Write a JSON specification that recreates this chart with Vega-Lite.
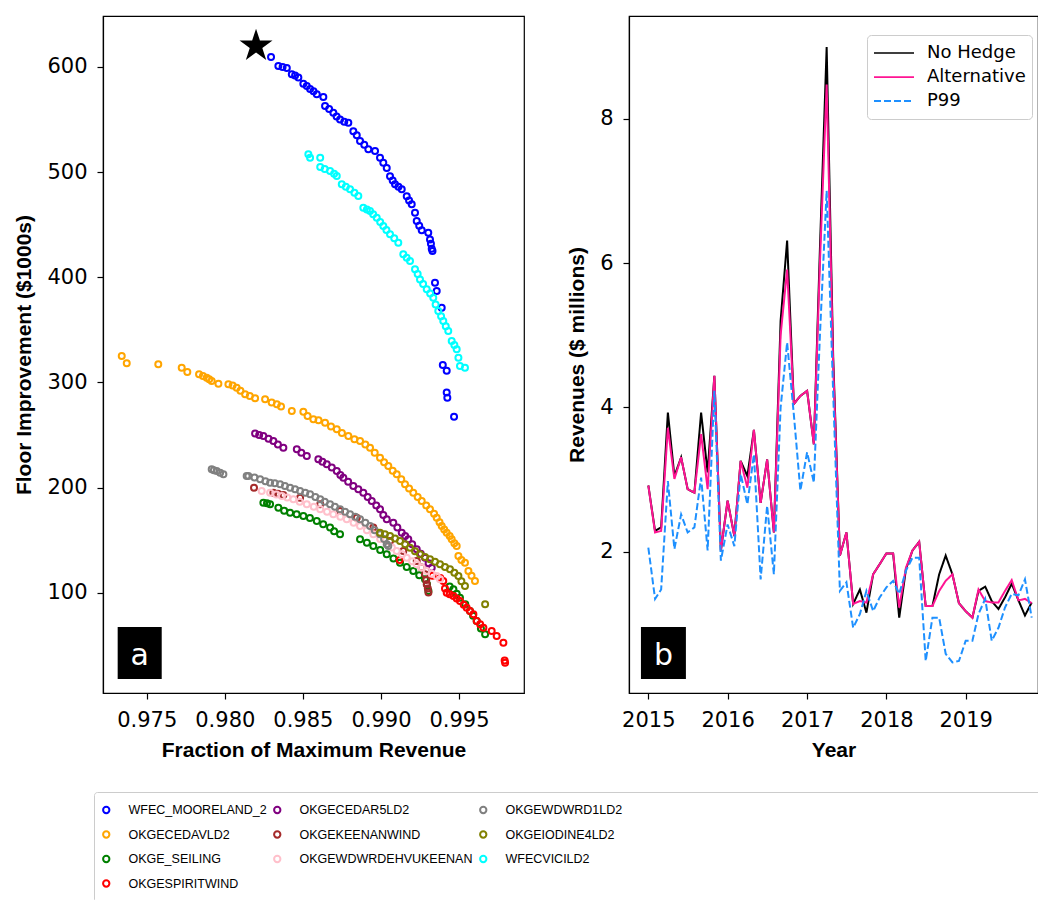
{
"$schema": "https://vega.github.io/schema/vega-lite/v6.json",
"padding": {"left": 13, "top": 15, "right": 0, "bottom": 0},
"background": "white",
"config": {
  "view": {"stroke": "black", "strokeWidth": 1.2},
  "axis": {"labelFont": "DejaVu Sans", "labelFontSize": 21, "labelColor": "black", "tickColor": "black", "domainColor": "black", "tickSize": 6, "tickWidth": 1.2, "domainWidth": 1.2, "labelPadding": 10, "titleFont": "Liberation Sans", "titleFontSize": 21, "titleFontWeight": "bold", "titleColor": "black", "titlePadding": 12, "grid": false, "labelOverlap": false, "labelFlush": false, "labelBound": false}
},
"datasets": {
"scatter": [
{"unit":"WFEC_MOORELAND_2","frac":0.98296,"floor":609.5},{"unit":"WFEC_MOORELAND_2","frac":0.98343,"floor":601},{"unit":"WFEC_MOORELAND_2","frac":0.9837,"floor":600},{"unit":"WFEC_MOORELAND_2","frac":0.98397,"floor":599},{"unit":"WFEC_MOORELAND_2","frac":0.98429,"floor":593},{"unit":"WFEC_MOORELAND_2","frac":0.9845,"floor":592},{"unit":"WFEC_MOORELAND_2","frac":0.98471,"floor":590},{"unit":"WFEC_MOORELAND_2","frac":0.98503,"floor":584},{"unit":"WFEC_MOORELAND_2","frac":0.98525,"floor":582},{"unit":"WFEC_MOORELAND_2","frac":0.98546,"floor":579},{"unit":"WFEC_MOORELAND_2","frac":0.98568,"floor":577},{"unit":"WFEC_MOORELAND_2","frac":0.98589,"floor":574},{"unit":"WFEC_MOORELAND_2","frac":0.98631,"floor":571.5},{"unit":"WFEC_MOORELAND_2","frac":0.98642,"floor":563},{"unit":"WFEC_MOORELAND_2","frac":0.98668,"floor":560},{"unit":"WFEC_MOORELAND_2","frac":0.98695,"floor":556.5},{"unit":"WFEC_MOORELAND_2","frac":0.98716,"floor":553},{"unit":"WFEC_MOORELAND_2","frac":0.98738,"floor":550},{"unit":"WFEC_MOORELAND_2","frac":0.98765,"floor":548},{"unit":"WFEC_MOORELAND_2","frac":0.98791,"floor":547},{"unit":"WFEC_MOORELAND_2","frac":0.98823,"floor":539},{"unit":"WFEC_MOORELAND_2","frac":0.98845,"floor":535},{"unit":"WFEC_MOORELAND_2","frac":0.98866,"floor":529.6},{"unit":"WFEC_MOORELAND_2","frac":0.98893,"floor":526},{"unit":"WFEC_MOORELAND_2","frac":0.98919,"floor":521.7},{"unit":"WFEC_MOORELAND_2","frac":0.98962,"floor":520},{"unit":"WFEC_MOORELAND_2","frac":0.98994,"floor":513.7},{"unit":"WFEC_MOORELAND_2","frac":0.99015,"floor":509},{"unit":"WFEC_MOORELAND_2","frac":0.99037,"floor":504},{"unit":"WFEC_MOORELAND_2","frac":0.99058,"floor":496},{"unit":"WFEC_MOORELAND_2","frac":0.99075,"floor":492},{"unit":"WFEC_MOORELAND_2","frac":0.9909,"floor":488.4},{"unit":"WFEC_MOORELAND_2","frac":0.99112,"floor":486},{"unit":"WFEC_MOORELAND_2","frac":0.99133,"floor":483.7},{"unit":"WFEC_MOORELAND_2","frac":0.99165,"floor":477},{"unit":"WFEC_MOORELAND_2","frac":0.9918,"floor":473},{"unit":"WFEC_MOORELAND_2","frac":0.99197,"floor":469.4},{"unit":"WFEC_MOORELAND_2","frac":0.99218,"floor":461.4},{"unit":"WFEC_MOORELAND_2","frac":0.99229,"floor":453.5},{"unit":"WFEC_MOORELAND_2","frac":0.99245,"floor":449},{"unit":"WFEC_MOORELAND_2","frac":0.99261,"floor":444.7},{"unit":"WFEC_MOORELAND_2","frac":0.99303,"floor":442.4},{"unit":"WFEC_MOORELAND_2","frac":0.99314,"floor":436},{"unit":"WFEC_MOORELAND_2","frac":0.9932,"floor":432},{"unit":"WFEC_MOORELAND_2","frac":0.99325,"floor":427.2},{"unit":"WFEC_MOORELAND_2","frac":0.9933,"floor":425},{"unit":"WFEC_MOORELAND_2","frac":0.99346,"floor":394.8},{"unit":"WFEC_MOORELAND_2","frac":0.99357,"floor":387},{"unit":"WFEC_MOORELAND_2","frac":0.99389,"floor":371},{"unit":"WFEC_MOORELAND_2","frac":0.99396,"floor":316.6},{"unit":"WFEC_MOORELAND_2","frac":0.99421,"floor":311},{"unit":"WFEC_MOORELAND_2","frac":0.99421,"floor":290.3},{"unit":"WFEC_MOORELAND_2","frac":0.99425,"floor":285.5},{"unit":"WFEC_MOORELAND_2","frac":0.99468,"floor":267.4},
{"unit":"OKGECEDAVLD2","frac":0.9734,"floor":325.1},{"unit":"OKGECEDAVLD2","frac":0.97372,"floor":318.2},{"unit":"OKGECEDAVLD2","frac":0.97574,"floor":317.2},{"unit":"OKGECEDAVLD2","frac":0.97724,"floor":314},{"unit":"OKGECEDAVLD2","frac":0.9776,"floor":309.9},{"unit":"OKGECEDAVLD2","frac":0.97835,"floor":307.7},{"unit":"OKGECEDAVLD2","frac":0.9786,"floor":306},{"unit":"OKGECEDAVLD2","frac":0.97884,"floor":304.5},{"unit":"OKGECEDAVLD2","frac":0.979,"floor":303},{"unit":"OKGECEDAVLD2","frac":0.97916,"floor":301.4},{"unit":"OKGECEDAVLD2","frac":0.97959,"floor":298.8},{"unit":"OKGECEDAVLD2","frac":0.98023,"floor":298.2},{"unit":"OKGECEDAVLD2","frac":0.9805,"floor":297},{"unit":"OKGECEDAVLD2","frac":0.98076,"floor":295},{"unit":"OKGECEDAVLD2","frac":0.981,"floor":292},{"unit":"OKGECEDAVLD2","frac":0.9813,"floor":288.7},{"unit":"OKGECEDAVLD2","frac":0.9816,"floor":287},{"unit":"OKGECEDAVLD2","frac":0.98194,"floor":284.9},{"unit":"OKGECEDAVLD2","frac":0.98258,"floor":284},{"unit":"OKGECEDAVLD2","frac":0.983,"floor":281},{"unit":"OKGECEDAVLD2","frac":0.98333,"floor":279.2},{"unit":"OKGECEDAVLD2","frac":0.9836,"floor":277},{"unit":"OKGECEDAVLD2","frac":0.98429,"floor":272.8},{"unit":"OKGECEDAVLD2","frac":0.98503,"floor":272.2},{"unit":"OKGECEDAVLD2","frac":0.9853,"floor":268},{"unit":"OKGECEDAVLD2","frac":0.98567,"floor":265},{"unit":"OKGECEDAVLD2","frac":0.986,"floor":264},{"unit":"OKGECEDAVLD2","frac":0.98642,"floor":261.7},{"unit":"OKGECEDAVLD2","frac":0.9868,"floor":258},{"unit":"OKGECEDAVLD2","frac":0.98717,"floor":255.4},{"unit":"OKGECEDAVLD2","frac":0.9875,"floor":252},{"unit":"OKGECEDAVLD2","frac":0.98791,"floor":249.1},{"unit":"OKGECEDAVLD2","frac":0.9883,"floor":246},{"unit":"OKGECEDAVLD2","frac":0.98866,"floor":244.3},{"unit":"OKGECEDAVLD2","frac":0.989,"floor":241},{"unit":"OKGECEDAVLD2","frac":0.9893,"floor":237.9},{"unit":"OKGECEDAVLD2","frac":0.9896,"floor":233},{"unit":"OKGECEDAVLD2","frac":0.98994,"floor":228.4},{"unit":"OKGECEDAVLD2","frac":0.9902,"floor":224},{"unit":"OKGECEDAVLD2","frac":0.99047,"floor":220.5},{"unit":"OKGECEDAVLD2","frac":0.99075,"floor":216},{"unit":"OKGECEDAVLD2","frac":0.99101,"floor":212.6},{"unit":"OKGECEDAVLD2","frac":0.9913,"floor":208},{"unit":"OKGECEDAVLD2","frac":0.99154,"floor":203.1},{"unit":"OKGECEDAVLD2","frac":0.9918,"floor":199},{"unit":"OKGECEDAVLD2","frac":0.99207,"floor":195.1},{"unit":"OKGECEDAVLD2","frac":0.99235,"floor":191},{"unit":"OKGECEDAVLD2","frac":0.99261,"floor":187.2},{"unit":"OKGECEDAVLD2","frac":0.9929,"floor":183},{"unit":"OKGECEDAVLD2","frac":0.99314,"floor":179.3},{"unit":"OKGECEDAVLD2","frac":0.9934,"floor":175},{"unit":"OKGECEDAVLD2","frac":0.99357,"floor":171.3},{"unit":"OKGECEDAVLD2","frac":0.99375,"floor":167},{"unit":"OKGECEDAVLD2","frac":0.99389,"floor":163.4},{"unit":"OKGECEDAVLD2","frac":0.99405,"floor":160},{"unit":"OKGECEDAVLD2","frac":0.99421,"floor":157.1},{"unit":"OKGECEDAVLD2","frac":0.9944,"floor":154},{"unit":"OKGECEDAVLD2","frac":0.99453,"floor":150.8},{"unit":"OKGECEDAVLD2","frac":0.9947,"floor":147},{"unit":"OKGECEDAVLD2","frac":0.99485,"floor":144.4},{"unit":"OKGECEDAVLD2","frac":0.99496,"floor":134.9},{"unit":"OKGECEDAVLD2","frac":0.99515,"floor":131},{"unit":"OKGECEDAVLD2","frac":0.99538,"floor":128.5},{"unit":"OKGECEDAVLD2","frac":0.9956,"floor":120.6},{"unit":"OKGECEDAVLD2","frac":0.9958,"floor":116},{"unit":"OKGECEDAVLD2","frac":0.99602,"floor":111.1},
{"unit":"OKGE_SEILING","frac":0.98247,"floor":185.6},{"unit":"OKGE_SEILING","frac":0.9827,"floor":185},{"unit":"OKGE_SEILING","frac":0.9829,"floor":184.1},{"unit":"OKGE_SEILING","frac":0.98343,"floor":180.9},{"unit":"OKGE_SEILING","frac":0.9838,"floor":178},{"unit":"OKGE_SEILING","frac":0.98418,"floor":176.1},{"unit":"OKGE_SEILING","frac":0.9846,"floor":174.5},{"unit":"OKGE_SEILING","frac":0.98503,"floor":173},{"unit":"OKGE_SEILING","frac":0.98545,"floor":171},{"unit":"OKGE_SEILING","frac":0.98589,"floor":168.2},{"unit":"OKGE_SEILING","frac":0.9863,"floor":165},{"unit":"OKGE_SEILING","frac":0.98674,"floor":161.9},{"unit":"OKGE_SEILING","frac":0.987,"floor":158.5},{"unit":"OKGE_SEILING","frac":0.98738,"floor":155.6},{"unit":"OKGE_SEILING","frac":0.98866,"floor":150.8},{"unit":"OKGE_SEILING","frac":0.9891,"floor":147.5},{"unit":"OKGE_SEILING","frac":0.98951,"floor":144.4},{"unit":"OKGE_SEILING","frac":0.98995,"floor":140.5},{"unit":"OKGE_SEILING","frac":0.99037,"floor":136.5},{"unit":"OKGE_SEILING","frac":0.9908,"floor":132.5},{"unit":"OKGE_SEILING","frac":0.99122,"floor":128.5},{"unit":"OKGE_SEILING","frac":0.99165,"floor":124.5},{"unit":"OKGE_SEILING","frac":0.99207,"floor":120.6},{"unit":"OKGE_SEILING","frac":0.99245,"floor":116.5},{"unit":"OKGE_SEILING","frac":0.99282,"floor":112.8},{"unit":"OKGE_SEILING","frac":0.99295,"floor":108},{"unit":"OKGE_SEILING","frac":0.99304,"floor":101.6},{"unit":"OKGE_SEILING","frac":0.9944,"floor":106},{"unit":"OKGE_SEILING","frac":0.99464,"floor":103.2},{"unit":"OKGE_SEILING","frac":0.99485,"floor":99},{"unit":"OKGE_SEILING","frac":0.99506,"floor":95.3},{"unit":"OKGE_SEILING","frac":0.9954,"floor":89},{"unit":"OKGE_SEILING","frac":0.9957,"floor":82.6},{"unit":"OKGE_SEILING","frac":0.9959,"floor":78},{"unit":"OKGE_SEILING","frac":0.99613,"floor":73.1},{"unit":"OKGE_SEILING","frac":0.9964,"floor":66},{"unit":"OKGE_SEILING","frac":0.99667,"floor":60.4},
{"unit":"OKGESPIRITWIND","frac":0.9912,"floor":131},{"unit":"OKGESPIRITWIND","frac":0.9933,"floor":116},{"unit":"OKGESPIRITWIND","frac":0.9938,"floor":114},{"unit":"OKGESPIRITWIND","frac":0.99399,"floor":111.1},{"unit":"OKGESPIRITWIND","frac":0.9941,"floor":104},{"unit":"OKGESPIRITWIND","frac":0.99421,"floor":100},{"unit":"OKGESPIRITWIND","frac":0.9944,"floor":98.5},{"unit":"OKGESPIRITWIND","frac":0.99464,"floor":96.9},{"unit":"OKGESPIRITWIND","frac":0.99485,"floor":94.5},{"unit":"OKGESPIRITWIND","frac":0.99506,"floor":92.1},{"unit":"OKGESPIRITWIND","frac":0.9953,"floor":88.5},{"unit":"OKGESPIRITWIND","frac":0.99549,"floor":85.7},{"unit":"OKGESPIRITWIND","frac":0.9957,"floor":82.5},{"unit":"OKGESPIRITWIND","frac":0.99592,"floor":79.4},{"unit":"OKGESPIRITWIND","frac":0.99613,"floor":73.1},{"unit":"OKGESPIRITWIND","frac":0.99635,"floor":70},{"unit":"OKGESPIRITWIND","frac":0.99656,"floor":66.7},{"unit":"OKGESPIRITWIND","frac":0.99709,"floor":63.6},{"unit":"OKGESPIRITWIND","frac":0.99741,"floor":58.8},{"unit":"OKGESPIRITWIND","frac":0.99784,"floor":52.4},{"unit":"OKGESPIRITWIND","frac":0.99792,"floor":35.5},{"unit":"OKGESPIRITWIND","frac":0.99795,"floor":33.4},
{"unit":"OKGECEDAR5LD2","frac":0.98194,"floor":251.3},{"unit":"OKGECEDAR5LD2","frac":0.9822,"floor":250},{"unit":"OKGECEDAR5LD2","frac":0.98247,"floor":249.1},{"unit":"OKGECEDAR5LD2","frac":0.9828,"floor":246.5},{"unit":"OKGECEDAR5LD2","frac":0.98311,"floor":244.3},{"unit":"OKGECEDAR5LD2","frac":0.9834,"floor":241},{"unit":"OKGECEDAR5LD2","frac":0.98375,"floor":237.9},{"unit":"OKGECEDAR5LD2","frac":0.98461,"floor":236.4},{"unit":"OKGECEDAR5LD2","frac":0.9849,"floor":233},{"unit":"OKGECEDAR5LD2","frac":0.98525,"floor":230},{"unit":"OKGECEDAR5LD2","frac":0.98599,"floor":226.9},{"unit":"OKGECEDAR5LD2","frac":0.98625,"floor":224.5},{"unit":"OKGECEDAR5LD2","frac":0.98653,"floor":222.1},{"unit":"OKGECEDAR5LD2","frac":0.98685,"floor":219},{"unit":"OKGECEDAR5LD2","frac":0.98717,"floor":215.7},{"unit":"OKGECEDAR5LD2","frac":0.9874,"floor":212},{"unit":"OKGECEDAR5LD2","frac":0.98759,"floor":209.4},{"unit":"OKGECEDAR5LD2","frac":0.9879,"floor":205.5},{"unit":"OKGECEDAR5LD2","frac":0.98823,"floor":201.5},{"unit":"OKGECEDAR5LD2","frac":0.98855,"floor":198.5},{"unit":"OKGECEDAR5LD2","frac":0.98887,"floor":195.1},{"unit":"OKGECEDAR5LD2","frac":0.98915,"floor":191},{"unit":"OKGECEDAR5LD2","frac":0.98941,"floor":187.2},{"unit":"OKGECEDAR5LD2","frac":0.9897,"floor":183},{"unit":"OKGECEDAR5LD2","frac":0.98994,"floor":179.3},{"unit":"OKGECEDAR5LD2","frac":0.99015,"floor":174},{"unit":"OKGECEDAR5LD2","frac":0.99037,"floor":169.8},{"unit":"OKGECEDAR5LD2","frac":0.99079,"floor":166.6},{"unit":"OKGECEDAR5LD2","frac":0.99105,"floor":162},{"unit":"OKGECEDAR5LD2","frac":0.99133,"floor":157.1},{"unit":"OKGECEDAR5LD2","frac":0.99155,"floor":154},{"unit":"OKGECEDAR5LD2","frac":0.99175,"floor":150.8},{"unit":"OKGECEDAR5LD2","frac":0.992,"floor":146},{"unit":"OKGECEDAR5LD2","frac":0.99229,"floor":141.3},{"unit":"OKGECEDAR5LD2","frac":0.99255,"floor":137},{"unit":"OKGECEDAR5LD2","frac":0.99282,"floor":133.3},{"unit":"OKGECEDAR5LD2","frac":0.99305,"floor":128},{"unit":"OKGECEDAR5LD2","frac":0.99325,"floor":123.8},
{"unit":"OKGEKEENANWIND","frac":0.98187,"floor":199.9},{"unit":"OKGEKEENANWIND","frac":0.98311,"floor":195.1},{"unit":"OKGEKEENANWIND","frac":0.9834,"floor":194},{"unit":"OKGEKEENANWIND","frac":0.98375,"floor":192.9},{"unit":"OKGEKEENANWIND","frac":0.98482,"floor":190.4},{"unit":"OKGEKEENANWIND","frac":0.98611,"floor":184.1},{"unit":"OKGEKEENANWIND","frac":0.98738,"floor":177.7},{"unit":"OKGEKEENANWIND","frac":0.98845,"floor":171.3},{"unit":"OKGEKEENANWIND","frac":0.98951,"floor":161.9},{"unit":"OKGEKEENANWIND","frac":0.99058,"floor":149.2},{"unit":"OKGEKEENANWIND","frac":0.99143,"floor":139.7},{"unit":"OKGEKEENANWIND","frac":0.99229,"floor":130.2},{"unit":"OKGEKEENANWIND","frac":0.9926,"floor":124},{"unit":"OKGEKEENANWIND","frac":0.99282,"floor":117.5},{"unit":"OKGEKEENANWIND","frac":0.9929,"floor":112},{"unit":"OKGEKEENANWIND","frac":0.99293,"floor":108},{"unit":"OKGEKEENANWIND","frac":0.993,"floor":104},{"unit":"OKGEKEENANWIND","frac":0.99304,"floor":100.1},
{"unit":"OKGEWDWRDEHVUKEENAN","frac":0.98236,"floor":196.7},{"unit":"OKGEWDWRDEHVUKEENAN","frac":0.9829,"floor":195.1},{"unit":"OKGEWDWRDEHVUKEENAN","frac":0.9833,"floor":193.5},{"unit":"OKGEWDWRDEHVUKEENAN","frac":0.98365,"floor":192},{"unit":"OKGEWDWRDEHVUKEENAN","frac":0.984,"floor":190.5},{"unit":"OKGEWDWRDEHVUKEENAN","frac":0.98439,"floor":188.8},{"unit":"OKGEWDWRDEHVUKEENAN","frac":0.9848,"floor":186.5},{"unit":"OKGEWDWRDEHVUKEENAN","frac":0.98525,"floor":184.1},{"unit":"OKGEWDWRDEHVUKEENAN","frac":0.9857,"floor":181.7},{"unit":"OKGEWDWRDEHVUKEENAN","frac":0.98611,"floor":179.3},{"unit":"OKGEWDWRDEHVUKEENAN","frac":0.98655,"floor":177},{"unit":"OKGEWDWRDEHVUKEENAN","frac":0.98695,"floor":174.6},{"unit":"OKGEWDWRDEHVUKEENAN","frac":0.9874,"floor":172.2},{"unit":"OKGEWDWRDEHVUKEENAN","frac":0.98781,"floor":169.8},{"unit":"OKGEWDWRDEHVUKEENAN","frac":0.98825,"floor":166.5},{"unit":"OKGEWDWRDEHVUKEENAN","frac":0.98866,"floor":163.4},{"unit":"OKGEWDWRDEHVUKEENAN","frac":0.9891,"floor":159.5},{"unit":"OKGEWDWRDEHVUKEENAN","frac":0.98951,"floor":155.6},{"unit":"OKGEWDWRDEHVUKEENAN","frac":0.98995,"floor":151},{"unit":"OKGEWDWRDEHVUKEENAN","frac":0.99037,"floor":146},{"unit":"OKGEWDWRDEHVUKEENAN","frac":0.9907,"floor":143},{"unit":"OKGEWDWRDEHVUKEENAN","frac":0.99101,"floor":139.7},{"unit":"OKGEWDWRDEHVUKEENAN","frac":0.99135,"floor":136.5},{"unit":"OKGEWDWRDEHVUKEENAN","frac":0.99165,"floor":133.3},{"unit":"OKGEWDWRDEHVUKEENAN","frac":0.992,"floor":130},{"unit":"OKGEWDWRDEHVUKEENAN","frac":0.99229,"floor":127},{"unit":"OKGEWDWRDEHVUKEENAN","frac":0.9926,"floor":124},{"unit":"OKGEWDWRDEHVUKEENAN","frac":0.99293,"floor":120.6},{"unit":"OKGEWDWRDEHVUKEENAN","frac":0.99325,"floor":118},{"unit":"OKGEWDWRDEHVUKEENAN","frac":0.99357,"floor":115.9},{"unit":"OKGEWDWRDEHVUKEENAN","frac":0.99378,"floor":112.8},
{"unit":"OKGEWDWRD1LD2","frac":0.97916,"floor":217.4},{"unit":"OKGEWDWRD1LD2","frac":0.9793,"floor":216.5},{"unit":"OKGEWDWRD1LD2","frac":0.97948,"floor":215.8},{"unit":"OKGEWDWRD1LD2","frac":0.9797,"floor":214},{"unit":"OKGEWDWRD1LD2","frac":0.97991,"floor":212.6},{"unit":"OKGEWDWRD1LD2","frac":0.9814,"floor":211},{"unit":"OKGEWDWRD1LD2","frac":0.98151,"floor":211},{"unit":"OKGEWDWRD1LD2","frac":0.9819,"floor":209.5},{"unit":"OKGEWDWRD1LD2","frac":0.98226,"floor":207.9},{"unit":"OKGEWDWRD1LD2","frac":0.9826,"floor":206},{"unit":"OKGEWDWRD1LD2","frac":0.9829,"floor":204.6},{"unit":"OKGEWDWRD1LD2","frac":0.9832,"floor":204},{"unit":"OKGEWDWRD1LD2","frac":0.98354,"floor":203.1},{"unit":"OKGEWDWRD1LD2","frac":0.98385,"floor":201.5},{"unit":"OKGEWDWRD1LD2","frac":0.98418,"floor":199.9},{"unit":"OKGEWDWRD1LD2","frac":0.9845,"floor":198.3},{"unit":"OKGEWDWRD1LD2","frac":0.98482,"floor":196.7},{"unit":"OKGEWDWRD1LD2","frac":0.98515,"floor":195},{"unit":"OKGEWDWRD1LD2","frac":0.98546,"floor":193.6},{"unit":"OKGEWDWRD1LD2","frac":0.9858,"floor":191},{"unit":"OKGEWDWRD1LD2","frac":0.98611,"floor":188.8},{"unit":"OKGEWDWRD1LD2","frac":0.9864,"floor":186.5},{"unit":"OKGEWDWRD1LD2","frac":0.98674,"floor":184.1},{"unit":"OKGEWDWRD1LD2","frac":0.98705,"floor":181.7},{"unit":"OKGEWDWRD1LD2","frac":0.98738,"floor":179.3},{"unit":"OKGEWDWRD1LD2","frac":0.9877,"floor":177},{"unit":"OKGEWDWRD1LD2","frac":0.98802,"floor":174.6},{"unit":"OKGEWDWRD1LD2","frac":0.98835,"floor":172.2},{"unit":"OKGEWDWRD1LD2","frac":0.98866,"floor":169.8},{"unit":"OKGEWDWRD1LD2","frac":0.989,"floor":166.5},{"unit":"OKGEWDWRD1LD2","frac":0.9893,"floor":163.4},{"unit":"OKGEWDWRD1LD2","frac":0.9896,"floor":159.5},{"unit":"OKGEWDWRD1LD2","frac":0.98994,"floor":155.6},{"unit":"OKGEWDWRD1LD2","frac":0.9902,"floor":151},{"unit":"OKGEWDWRD1LD2","frac":0.99037,"floor":146},{"unit":"OKGEWDWRD1LD2","frac":0.99047,"floor":144.4},
{"unit":"OKGEIODINE4LD2","frac":0.98994,"floor":157.1},{"unit":"OKGEIODINE4LD2","frac":0.99025,"floor":155.5},{"unit":"OKGEIODINE4LD2","frac":0.99058,"floor":153.9},{"unit":"OKGEIODINE4LD2","frac":0.9909,"floor":151.5},{"unit":"OKGEIODINE4LD2","frac":0.99122,"floor":149.2},{"unit":"OKGEIODINE4LD2","frac":0.99155,"floor":146},{"unit":"OKGEIODINE4LD2","frac":0.99186,"floor":142.8},{"unit":"OKGEIODINE4LD2","frac":0.99218,"floor":139.5},{"unit":"OKGEIODINE4LD2","frac":0.9925,"floor":136.5},{"unit":"OKGEIODINE4LD2","frac":0.99282,"floor":134},{"unit":"OKGEIODINE4LD2","frac":0.99314,"floor":131.8},{"unit":"OKGEIODINE4LD2","frac":0.99346,"floor":129.5},{"unit":"OKGEIODINE4LD2","frac":0.99378,"floor":127},{"unit":"OKGEIODINE4LD2","frac":0.9941,"floor":124.5},{"unit":"OKGEIODINE4LD2","frac":0.99442,"floor":122.2},{"unit":"OKGEIODINE4LD2","frac":0.9947,"floor":119},{"unit":"OKGEIODINE4LD2","frac":0.99496,"floor":115.9},{"unit":"OKGEIODINE4LD2","frac":0.99515,"floor":111},{"unit":"OKGEIODINE4LD2","frac":0.99538,"floor":106.4},{"unit":"OKGEIODINE4LD2","frac":0.99667,"floor":88.9},
{"unit":"WFECVICILD2","frac":0.98535,"floor":517},{"unit":"WFECVICILD2","frac":0.98546,"floor":513.7},{"unit":"WFECVICILD2","frac":0.98611,"floor":513.7},{"unit":"WFECVICILD2","frac":0.98611,"floor":504.9},{"unit":"WFECVICILD2","frac":0.9864,"floor":503},{"unit":"WFECVICILD2","frac":0.98674,"floor":501},{"unit":"WFECVICILD2","frac":0.987,"floor":498.5},{"unit":"WFECVICILD2","frac":0.98717,"floor":496.3},{"unit":"WFECVICILD2","frac":0.98749,"floor":488.4},{"unit":"WFECVICILD2","frac":0.98775,"floor":486},{"unit":"WFECVICILD2","frac":0.98802,"floor":483.7},{"unit":"WFECVICILD2","frac":0.9883,"floor":480.5},{"unit":"WFECVICILD2","frac":0.98855,"floor":477.3},{"unit":"WFECVICILD2","frac":0.98887,"floor":466.2},{"unit":"WFECVICILD2","frac":0.9891,"floor":464.5},{"unit":"WFECVICILD2","frac":0.9893,"floor":463},{"unit":"WFECVICILD2","frac":0.9895,"floor":460},{"unit":"WFECVICILD2","frac":0.98973,"floor":456.7},{"unit":"WFECVICILD2","frac":0.98995,"floor":452.5},{"unit":"WFECVICILD2","frac":0.99015,"floor":448.8},{"unit":"WFECVICILD2","frac":0.99035,"floor":445},{"unit":"WFECVICILD2","frac":0.99058,"floor":440.9},{"unit":"WFECVICILD2","frac":0.99085,"floor":437},{"unit":"WFECVICILD2","frac":0.99111,"floor":432.9},{"unit":"WFECVICILD2","frac":0.99143,"floor":421.8},{"unit":"WFECVICILD2","frac":0.99165,"floor":418.5},{"unit":"WFECVICILD2","frac":0.99186,"floor":415.5},{"unit":"WFECVICILD2","frac":0.99218,"floor":407.6},{"unit":"WFECVICILD2","frac":0.99235,"floor":403},{"unit":"WFECVICILD2","frac":0.9925,"floor":398},{"unit":"WFECVICILD2","frac":0.9927,"floor":393.5},{"unit":"WFECVICILD2","frac":0.99293,"floor":388.6},{"unit":"WFECVICILD2","frac":0.99315,"floor":384.5},{"unit":"WFECVICILD2","frac":0.99335,"floor":380.6},{"unit":"WFECVICILD2","frac":0.9935,"floor":374},{"unit":"WFECVICILD2","frac":0.99367,"floor":367.9},{"unit":"WFECVICILD2","frac":0.99385,"floor":363},{"unit":"WFECVICILD2","frac":0.99399,"floor":358.4},{"unit":"WFECVICILD2","frac":0.99415,"floor":353.5},{"unit":"WFECVICILD2","frac":0.99431,"floor":348.9},{"unit":"WFECVICILD2","frac":0.99453,"floor":339.4},{"unit":"WFECVICILD2","frac":0.9947,"floor":335.5},{"unit":"WFECVICILD2","frac":0.99485,"floor":331.5},{"unit":"WFECVICILD2","frac":0.99496,"floor":323.5},{"unit":"WFECVICILD2","frac":0.99506,"floor":315.6},{"unit":"WFECVICILD2","frac":0.99538,"floor":314}
],
"revenue": [
{"date":"2015-01-01","No Hedge":2.92,"Alternative":2.92,"P99":2.06},
{"date":"2015-02-01","No Hedge":2.29,"Alternative":2.27,"P99":1.35},
{"date":"2015-03-01","No Hedge":2.34,"Alternative":2.29,"P99":1.48},
{"date":"2015-04-01","No Hedge":3.93,"Alternative":3.72,"P99":2.98},
{"date":"2015-05-01","No Hedge":3.05,"Alternative":3.01,"P99":2.04},
{"date":"2015-06-01","No Hedge":3.31,"Alternative":3.31,"P99":2.52},
{"date":"2015-07-01","No Hedge":2.87,"Alternative":2.87,"P99":2.27},
{"date":"2015-08-01","No Hedge":2.82,"Alternative":2.82,"P99":2.34},
{"date":"2015-09-01","No Hedge":3.93,"Alternative":3.63,"P99":3.03},
{"date":"2015-10-01","No Hedge":3.1,"Alternative":2.87,"P99":2.02},
{"date":"2015-11-01","No Hedge":4.44,"Alternative":4.44,"P99":4.23},
{"date":"2015-12-01","No Hedge":2.02,"Alternative":2.02,"P99":1.88},
{"date":"2016-01-01","No Hedge":2.71,"Alternative":2.71,"P99":2.38},
{"date":"2016-02-01","No Hedge":2.22,"Alternative":2.22,"P99":2.08},
{"date":"2016-03-01","No Hedge":3.26,"Alternative":3.26,"P99":3.08},
{"date":"2016-04-01","No Hedge":3.05,"Alternative":2.89,"P99":2.66},
{"date":"2016-05-01","No Hedge":3.69,"Alternative":3.69,"P99":3.35},
{"date":"2016-06-01","No Hedge":2.68,"Alternative":2.68,"P99":1.62},
{"date":"2016-07-01","No Hedge":3.28,"Alternative":3.28,"P99":2.64},
{"date":"2016-08-01","No Hedge":2.27,"Alternative":2.27,"P99":1.69},
{"date":"2016-09-01","No Hedge":5.2,"Alternative":5.0,"P99":4.0},
{"date":"2016-10-01","No Hedge":6.31,"Alternative":5.91,"P99":4.9},
{"date":"2016-11-01","No Hedge":4.05,"Alternative":4.05,"P99":3.9},
{"date":"2016-12-01","No Hedge":4.16,"Alternative":4.16,"P99":2.85},
{"date":"2017-01-01","No Hedge":4.23,"Alternative":4.23,"P99":3.38},
{"date":"2017-02-01","No Hedge":3.49,"Alternative":3.49,"P99":2.96},
{"date":"2017-03-01","No Hedge":6.2,"Alternative":6.0,"P99":5.0},
{"date":"2017-04-01","No Hedge":8.99,"Alternative":8.47,"P99":7.0},
{"date":"2017-05-01","No Hedge":4.7,"Alternative":4.6,"P99":4.2},
{"date":"2017-06-01","No Hedge":1.95,"Alternative":1.95,"P99":1.46},
{"date":"2017-07-01","No Hedge":2.27,"Alternative":2.27,"P99":1.58},
{"date":"2017-08-01","No Hedge":1.28,"Alternative":1.28,"P99":0.95},
{"date":"2017-09-01","No Hedge":1.48,"Alternative":1.32,"P99":1.14},
{"date":"2017-10-01","No Hedge":1.16,"Alternative":1.3,"P99":1.46},
{"date":"2017-11-01","No Hedge":1.69,"Alternative":1.69,"P99":1.18},
{"date":"2017-12-01","No Hedge":1.83,"Alternative":1.83,"P99":1.37},
{"date":"2018-01-01","No Hedge":1.98,"Alternative":1.98,"P99":1.51},
{"date":"2018-02-01","No Hedge":1.98,"Alternative":1.98,"P99":1.6},
{"date":"2018-03-01","No Hedge":1.09,"Alternative":1.23,"P99":1.42},
{"date":"2018-04-01","No Hedge":1.76,"Alternative":1.78,"P99":1.74},
{"date":"2018-05-01","No Hedge":2.02,"Alternative":2.02,"P99":1.92},
{"date":"2018-06-01","No Hedge":2.14,"Alternative":2.14,"P99":1.92},
{"date":"2018-07-01","No Hedge":1.25,"Alternative":1.25,"P99":0.49},
{"date":"2018-08-01","No Hedge":1.25,"Alternative":1.25,"P99":1.09},
{"date":"2018-09-01","No Hedge":1.69,"Alternative":1.46,"P99":1.09},
{"date":"2018-10-01","No Hedge":1.95,"Alternative":1.6,"P99":0.59},
{"date":"2018-11-01","No Hedge":1.69,"Alternative":1.69,"P99":0.47},
{"date":"2018-12-01","No Hedge":1.29,"Alternative":1.29,"P99":0.49},
{"date":"2019-01-01","No Hedge":1.18,"Alternative":1.18,"P99":0.77},
{"date":"2019-02-01","No Hedge":1.09,"Alternative":1.09,"P99":0.77},
{"date":"2019-03-01","No Hedge":1.46,"Alternative":1.48,"P99":1.14},
{"date":"2019-04-01","No Hedge":1.52,"Alternative":1.32,"P99":1.35},
{"date":"2019-05-01","No Hedge":1.32,"Alternative":1.3,"P99":0.77},
{"date":"2019-06-01","No Hedge":1.21,"Alternative":1.3,"P99":0.95},
{"date":"2019-07-01","No Hedge":1.37,"Alternative":1.46,"P99":1.23},
{"date":"2019-08-01","No Hedge":1.56,"Alternative":1.61,"P99":1.42},
{"date":"2019-09-01","No Hedge":1.33,"Alternative":1.33,"P99":1.4},
{"date":"2019-10-01","No Hedge":1.12,"Alternative":1.35,"P99":1.62},
{"date":"2019-11-01","No Hedge":1.3,"Alternative":1.29,"P99":1.09}
]
},
"spacing": 105,
"bounds": "flush",
"resolve": {"scale": {"stroke": "independent", "strokeDash": "independent", "strokeWidth": "independent"}, "legend": {"stroke": "independent", "strokeDash": "independent", "strokeWidth": "independent"}},
"hconcat": [
{
  "width": 421, "height": 677,
  "layer": [
    {"data": {"name": "scatter"},
     "mark": {"type": "point", "filled": false, "size": 36, "strokeWidth": 2, "opacity": 1},
     "encoding": {
       "x": {"field": "frac", "type": "quantitative", "scale": {"domain": [0.9722, 0.99916], "nice": false, "zero": false}, "axis": {"title": "Fraction of Maximum Revenue", "values": [0.975, 0.98, 0.985, 0.99, 0.995], "format": ".3f", "titlePadding": 9}},
       "y": {"field": "floor", "type": "quantitative", "scale": {"domain": [4.6, 648.5], "nice": false, "zero": false}, "axis": {"title": "Floor Improvement ($1000s)", "values": [100, 200, 300, 400, 500, 600]}},
       "color": {"field": "unit", "type": "nominal",
         "scale": {"domain": ["WFEC_MOORELAND_2","OKGECEDAR5LD2","OKGEWDWRD1LD2","OKGECEDAVLD2","OKGEKEENANWIND","OKGEIODINE4LD2","OKGE_SEILING","OKGEWDWRDEHVUKEENAN","WFECVICILD2","OKGESPIRITWIND"],
                   "range": ["blue","purple","gray","orange","brown","olive","green","pink","cyan","red"]},
         "legend": {"orient": "none", "direction": "horizontal", "legendX": -9, "legendY": 776, "title": " ", "titleOrient": "right", "titlePadding": 428, "titleFontSize": 13,
           "columns": 3, "columnPadding": 4, "clipHeight": 24, "rowPadding": 0.5,
           "symbolType": "circle", "symbolSize": 40, "symbolStrokeWidth": 2, "symbolOpacity": 1,
           "labelFont": "Liberation Sans", "labelFontSize": 12.5, "labelColor": "black", "labelOffset": 16, "labelLimit": 400,
           "strokeColor": "#cccccc", "cornerRadius": 3, "padding": 6, "fillColor": "white"}}
     }},
    {"data": {"values": [{}]},
     "mark": {"type": "point", "shape": "M0,-1L0.2245,-0.309L0.951,-0.309L0.363,0.118L0.588,0.809L0,0.382L-0.588,0.809L-0.363,0.118L-0.951,-0.309L-0.2245,-0.309Z", "filled": true, "color": "black", "size": 1200, "opacity": 1},
     "encoding": {"x": {"datum": 0.982}, "y": {"datum": 620}}},
    {"data": {"values": [{}]},
     "mark": {"type": "rect", "color": "black"},
     "encoding": {"x": {"datum": 0.97314}, "x2": {"datum": 0.97596}, "y": {"datum": 67.4}, "y2": {"datum": 17.9}}},
    {"data": {"values": [{}]},
     "mark": {"type": "text", "text": "a", "color": "white", "fontSize": 30, "font": "DejaVu Sans", "align": "center", "baseline": "alphabetic"},
     "encoding": {"x": {"datum": 0.97455}, "y": {"datum": 31.2}}}
  ]
},
{
  "width": 409, "height": 677,
  "layer": [
    {"data": {"name": "revenue"},
     "transform": [{"fold": ["No Hedge", "Alternative", "P99"], "as": ["series", "value"]}],
     "mark": {"type": "line", "strokeWidth": 2},
     "encoding": {
       "x": {"field": "date", "type": "temporal",
             "scale": {"type": "utc", "domain": [{"year": 2014, "month": 10, "date": 4, "utc": true}, {"year": 2019, "month": 11, "date": 30, "utc": true}], "nice": false},
             "axis": {"title": "Year", "format": "%Y", "titlePadding": 9, "values": [{"year": 2015, "utc": true}, {"year": 2016, "utc": true}, {"year": 2017, "utc": true}, {"year": 2018, "utc": true}, {"year": 2019, "utc": true}]}},
       "y": {"field": "value", "type": "quantitative", "scale": {"domain": [0.047, 9.42], "nice": false, "zero": false}, "axis": {"title": "Revenues ($ millions)", "values": [2, 4, 6, 8], "format": "d"}},
       "stroke": {"field": "series", "type": "nominal", "sort": null,
         "scale": {"domain": ["No Hedge", "Alternative", "P99"], "range": ["black", "#ff1493", "#1e90ff"]},
         "legend": {"title": null, "orient": "none", "legendX": 238, "legendY": 19, "symbolType": "stroke", "symbolSize": 1600, "symbolStrokeWidth": 2,
           "labelFont": "DejaVu Sans", "labelFontSize": 18, "labelColor": "black", "labelOffset": 12, "clipHeight": 24, "rowPadding": 0, "padding": 6,
           "strokeColor": "#cccccc", "fillColor": "white", "cornerRadius": 4}},
       "strokeDash": {"field": "series", "type": "nominal", "sort": null,
         "scale": {"domain": ["No Hedge", "Alternative", "P99"], "range": [[1, 0], [1, 0], [7, 3]]},
         "legend": {"title": null, "orient": "none", "legendX": 238, "legendY": 19, "symbolType": "stroke", "symbolSize": 1600, "symbolStrokeWidth": 2,
           "labelFont": "DejaVu Sans", "labelFontSize": 18, "labelColor": "black", "labelOffset": 12, "clipHeight": 24, "rowPadding": 0, "padding": 6,
           "strokeColor": "#cccccc", "fillColor": "white", "cornerRadius": 4}},
       "strokeWidth": {"field": "series", "type": "ordinal", "scale": {"domain": ["No Hedge", "Alternative", "P99"], "range": [1.5, 2, 2]}, "legend": null}
     }},
    {"data": {"values": [{}]},
     "mark": {"type": "rect", "color": "black"},
     "encoding": {"x": {"datum": {"year": 2014, "month": 11, "date": 28, "utc": true}}, "x2": {"datum": {"year": 2015, "month": 6, "date": 23, "utc": true}}, "y": {"datum": 0.961}, "y2": {"datum": 0.241}}},
    {"data": {"values": [{}]},
     "mark": {"type": "text", "text": "b", "color": "white", "fontSize": 30, "font": "DejaVu Sans", "align": "center", "baseline": "alphabetic"},
     "encoding": {"x": {"datum": {"year": 2015, "month": 3, "date": 12, "utc": true}}, "y": {"datum": 0.435}}}
  ]
}
]
}
